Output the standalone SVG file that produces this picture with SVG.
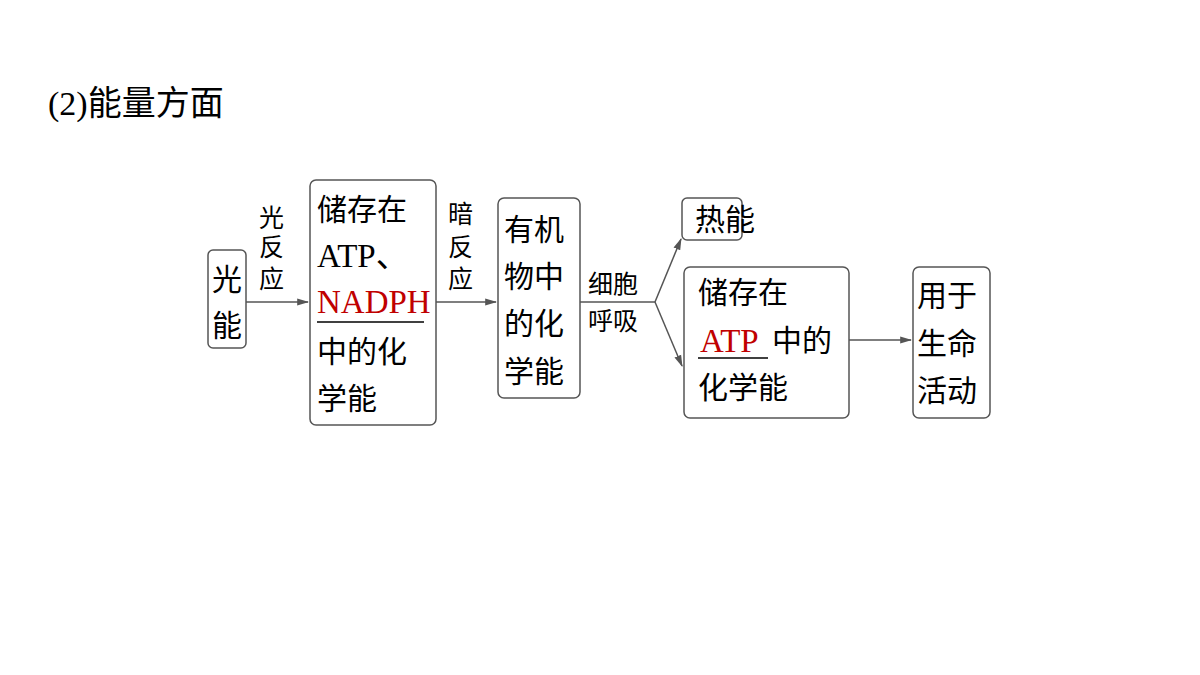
<svg xmlns="http://www.w3.org/2000/svg" width="1200" height="675" viewBox="0 0 1200 675">
<style>
.b{fill:#fff;stroke:#555;stroke-width:1.5}
.t{font-family:"Liberation Serif","Noto Sans CJK SC",serif;font-size:30px;fill:#000}
.l{font-size:33px}
.s{font-family:"Liberation Serif","Noto Sans CJK SC",serif;font-size:25px;fill:#000}
.r{fill:#c00000}
.c{stroke:#555;stroke-width:1.5;fill:none}
</style>
<defs><marker id="a" viewBox="0 0 10 10" refX="9" refY="5" markerWidth="8" markerHeight="8" orient="auto"><path d="M0,2 L10,5 L0,8 z" fill="#555"/></marker></defs>
<rect width="1200" height="675" fill="#fff"/>
<text class="t" x="48" y="115" style="font-size:34px">(2)能量方面</text>
<g id="connectors">
<line class="c" x1="246" y1="302" x2="308" y2="302" marker-end="url(#a)"/>
<line class="c" x1="436" y1="302" x2="496" y2="302" marker-end="url(#a)"/>
<line class="c" x1="580" y1="302" x2="655" y2="302"/>
<line class="c" x1="655" y1="302" x2="681" y2="239" marker-end="url(#a)"/>
<line class="c" x1="655" y1="302" x2="682" y2="366" marker-end="url(#a)"/>
<line class="c" x1="849" y1="340" x2="911" y2="340" marker-end="url(#a)"/>
<g class="s"><text x="259" y="227">光</text><text x="259" y="256">反</text><text x="259" y="288">应</text>
<text x="448" y="223">暗</text><text x="448" y="256">反</text><text x="448" y="288">应</text>
<text x="588" y="293">细胞</text><text x="588" y="330">呼吸</text></g>
</g>
<g id="n1"><rect class="b" x="208" y="250" width="38" height="98" rx="5"/><text class="t" x="212" y="290">光</text><text class="t" x="212" y="336">能</text></g>
<g id="n2"><rect class="b" x="310" y="180" width="126" height="245" rx="6"/>
<text class="t" x="317" y="220">储存在</text><text class="t l" x="317" y="267">ATP、</text><text class="t l r" x="317" y="313">NADPH</text>
<line x1="317" y1="322" x2="424" y2="322" stroke="#000" stroke-width="1.5"/>
<text class="t" x="317" y="362">中的化</text><text class="t" x="317" y="409">学能</text></g>
<g id="n3"><rect class="b" x="498" y="198" width="82" height="200" rx="6"/>
<text class="t" x="504" y="240">有机</text><text class="t" x="504" y="287">物中</text><text class="t" x="504" y="334">的化</text><text class="t" x="504" y="382">学能</text></g>
<g id="n4"><rect class="b" x="682" y="198" width="60" height="42" rx="5"/><text class="t" x="695" y="230">热能</text></g>
<g id="n5"><rect class="b" x="684" y="267" width="165" height="151" rx="6"/>
<text class="t" x="698" y="303">储存在</text><text class="t l r" x="700" y="352">ATP</text>
<line x1="698" y1="358" x2="768" y2="358" stroke="#000" stroke-width="1.5"/>
<text class="t" x="772" y="351">中的</text><text class="t" x="698" y="398">化学能</text></g>
<g id="n6"><rect class="b" x="913" y="267" width="77" height="151" rx="6"/>
<text class="t" x="917" y="306">用于</text><text class="t" x="917" y="354">生命</text><text class="t" x="917" y="401">活动</text></g>
</svg>
